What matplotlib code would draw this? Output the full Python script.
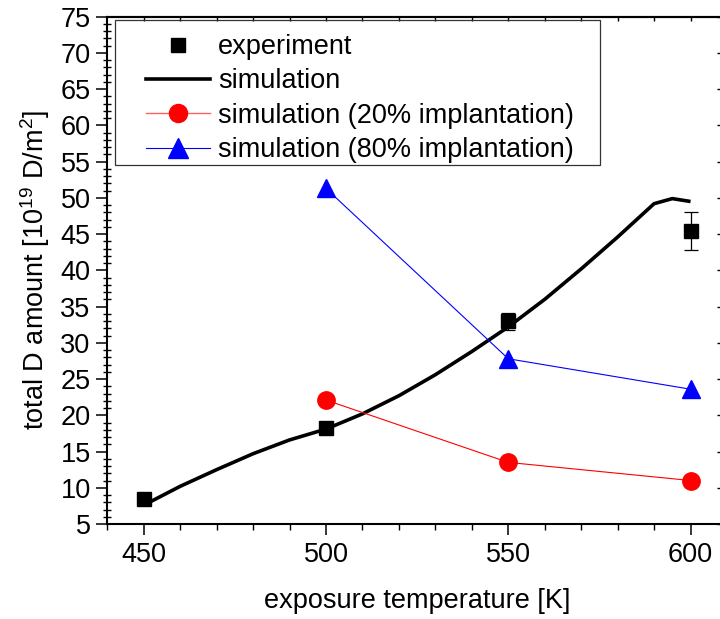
import numpy as np
import matplotlib
matplotlib.use("Agg")
import matplotlib.pyplot as plt
from matplotlib.lines import Line2D
from matplotlib.patches import Rectangle
from matplotlib.ticker import MultipleLocator

plt.rcParams['font.family'] = ['Liberation Sans', 'DejaVu Sans']
plt.rcParams['mathtext.fontset'] = 'custom'
plt.rcParams['mathtext.rm'] = 'Liberation Sans'

# dane eksperymentalne
temp_exp = [450, 500, 550, 600]
d_exp = [8.4, 18.3, 32.95, 45.4]
d_exp_err = [0.0, 0.0, 1.2, 2.6]

# symulacja (krzywa ciągła)
temp_sim = [450, 460, 470, 480, 490, 500, 510, 520, 530, 540, 550, 560, 570, 580, 590, 595, 600]
d_sim = [7.6, 10.2, 12.5, 14.7, 16.6, 18.1, 20.2, 22.7, 25.6, 28.8, 32.2, 36.0, 40.2, 44.6, 49.2, 49.9, 49.5]

# symulacje z różną implantacją
temp_impl = [500, 550, 600]
d_impl20 = [22.1, 13.5, 11.0]
d_impl80 = [51.3, 27.8, 23.6]

W, H = 720, 619
fig = plt.figure(figsize=(W / 100, H / 100), dpi=100)
ax = fig.add_axes([107.3 / W, (H - 524) / H, (727 - 107.3) / W, (524 - 16.7) / H])

fs = 19.5

ax.plot(temp_sim, d_sim, color='black', lw=2.6, solid_capstyle='butt', zorder=3)
ax.plot(temp_impl, d_impl20, color='red', lw=0.8, marker='o', ms=12.5, mec='red', zorder=4)
ax.plot(temp_impl, d_impl80, color='blue', lw=0.8, marker='^', ms=13.5, mec='blue', zorder=4)
ax.errorbar(temp_exp, d_exp, yerr=d_exp_err, fmt='s', color='black', ms=10,
            elinewidth=0.9, capsize=5, capthick=0.9, zorder=5)

ax.set_xlim(440, 610)
ax.set_ylim(5, 75)
ax.set_xticks([450, 500, 550, 600])
ax.xaxis.set_minor_locator(MultipleLocator(10))
ax.set_yticks(np.arange(5, 76, 5))
ax.yaxis.set_minor_locator(MultipleLocator(1))

for s in ax.spines.values():
    s.set_linewidth(1.5)

ax.tick_params(axis='both', which='major', direction='out', length=8, width=1.1,
               labelsize=fs, top=False, right=False)
ax.tick_params(axis='x', which='major', pad=5)
ax.tick_params(axis='y', which='major', pad=4)
ax.tick_params(axis='x', which='minor', direction='out', length=4.5, width=1.0, top=False)
ax.tick_params(axis='y', which='minor', direction='inout', length=6, width=1.0, right=False)

# znaczniki na górnej i prawej osi
top = ax.secondary_xaxis('top')
top.set_xticks(np.arange(450, 601, 10))
top.tick_params(direction='in', length=3, width=1.0, labeltop=False)
top.spines['top'].set_linewidth(1.5)
right = ax.secondary_yaxis('right')
right.set_yticks(np.arange(5, 76, 5))
right.tick_params(direction='in', length=7.5, width=1.0, labelright=False)

ax.set_xlabel('exposure temperature [K]', fontsize=fs, labelpad=14)
ax.set_ylabel('total D amount [10$^{19}$ D/m$^2$]', fontsize=fs, labelpad=6)

handles = [
    Line2D([], [], ls='none', marker='s', color='black', ms=9.5),
    Line2D([], [], color='black', lw=2.6),
    Line2D([], [], color='#ff6060', lw=1.0, marker='o', ms=13, mec='red', mfc='red'),
    Line2D([], [], color='blue', lw=0.8, marker='^', ms=14, mec='blue', mfc='blue'),
]
labels = ['experiment', 'simulation', 'simulation (20% implantation)',
          'simulation (80% implantation)']
fig.legend(handles, labels, loc='upper left', bbox_to_anchor=(146 / W, 1 - 34 / H),
           bbox_transform=fig.transFigure, frameon=False, fontsize=fs,
           borderpad=0, borderaxespad=0, handlelength=2.35, handletextpad=0.3,
           labelspacing=0.31)
fig.patches.append(Rectangle((115 / W, 1 - 165 / H), 485 / W, 145 / H,
                             transform=fig.transFigure, fill=False,
                             ec='#333333', lw=0.9, zorder=10))

fig.savefig('out.png', dpi=100)
